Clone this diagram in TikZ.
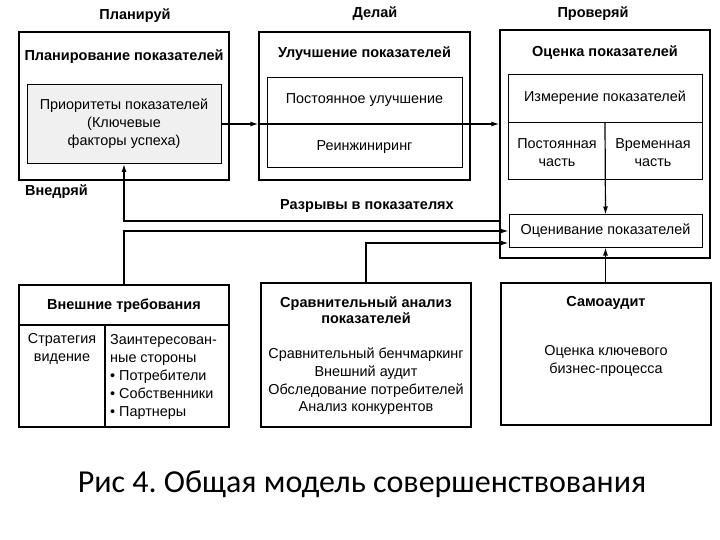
\documentclass[tikz,border=0pt]{standalone}
\usepackage{fontspec}
\setmainfont{Liberation Sans}
\newfontfamily\capfont{Carlito}
\usetikzlibrary{arrows.meta,positioning}

\begin{document}
\begin{tikzpicture}[x=1pt, y=-1pt,
		      bigbox/.style={draw, line width=1.4pt, inner sep=0pt},
		      smallbox/.style={draw, line width=1pt, inner sep=0pt},
		      head/.style={font=\fontsize{14.5}{16}\selectfont\bfseries, inner sep=0pt, align=center},
		      txt/.style={font=\fontsize{14.4}{18}\selectfont, inner sep=0pt, align=center},
		      arr/.style={-{Latex[length=8pt,width=5pt]}, line width=1.2pt}
		    ]
  \useasboundingbox (0,0) rectangle (720,540);

  % phases
  \node[head] (planlbl) at (135,16) {Планируй};
  \node[head] (dolbl) at (375,14) {Делай};
  \node[head] (checklbl) at (593,14) {Проверяй};
  \node[head, anchor=west] (actlbl) at (25,192) {Внедряй};

  % plan
  \node[bigbox, minimum width=210, minimum height=148] (plan) at (124,106) {};
  \node[head] (plantitle) at (124,57) {Планирование показателей};
  \node[smallbox, fill=gray!12, minimum width=194, minimum height=79] (prio) at (124,124) {};
  \node[txt] (priotxt) at (prio.center) {Приоритеты показателей\\(Ключевые\\факторы успеха)};

  % do
  \node[bigbox, minimum width=211, minimum height=148] (do) at (364.5,106) {};
  \node[head] (dotitle) at (364.5,54) {Улучшение показателей};
  \node[smallbox, minimum width=195, minimum height=90] (impr) at (364.5,123) {};
  \node[txt] (contimpr) at (364.5,100) {Постоянное улучшение};
  \node[txt] (reeng) at (364.5,147) {Реинжиниринг};

  % check
  \node[bigbox, minimum width=210, minimum height=228] (check) at (605,144) {};
  \node[head] (checktitle) at (605,53) {Оценка показателей};
  \node[smallbox, minimum width=194, minimum height=105] (meas) at (605,127.5) {};
  \node[txt] (meastxt) at (605,98) {Измерение показателей};
  \node[txt] (constpart) at (557,153) {Постоянная\\часть};
  \node[txt] (temppart) at (653,153) {Временная\\часть};
  \node[smallbox, minimum width=193, minimum height=32] (eval) at (605.5,231) {};
  \node[txt] (evaltxt) at (eval.center) {Оценивание показателей};
  \draw[line width=1pt] (meas.west |- 0,123) -- (meas.east |- 0,123);

  % bottom row
  \node[bigbox, minimum width=210, minimum height=142] (ext) at (124,356) {};
  \node[head] (exttitle) at (124,306) {Внешние требования};
  \draw[line width=1.2pt] (ext.west |- 0,325) -- (ext.east |- 0,325);
  \draw[line width=1.2pt] (105,325) -- (ext.south -| 105,0);
  \node[txt] (strat) at (62,349) {Стратегия\\видение};
  \node[txt, align=left, anchor=west] (stake) at (110,377) {Заинтересован-\\ные стороны\\• Потребители\\• Собственники\\• Партнеры};

  \node[bigbox, minimum width=210, minimum height=144] (bench) at (366,355) {};
  \node[head] (benchtitle) at (366,310) {Сравнительный анализ\\показателей};
  \node[txt, font=\fontsize{14.4}{17.7}\selectfont] (benchtxt) at (366,381.5) {Сравнительный бенчмаркинг\\Внешний аудит\\Обследование потребителей\\Анализ конкурентов};

  \node[bigbox, minimum width=210, minimum height=142] (self) at (606,354) {};
  \node[head] (selftitle) at (606,303) {Самоаудит};
  \node[txt] (selftxt) at (606,361) {Оценка ключевого\\бизнес-процесса};

  % connectors
  \draw[arr] (prio.east) -- (prio.east -| do.west);
  \draw[arr] (do.west |- prio.east) -- (check.west |- prio.east);
  \draw[arr] (meas.center |- 0,123) -- (eval.north);
  \draw[arr] (self.north -| eval.south) -- (eval.south);
  \draw[arr] (check.west |- 0,221) -| (prio.south);
  \node[head] (gaplbl) at (367,206) {Разрывы в показателях};
  \draw[arr] (ext.north) |- (eval.west);
  \draw[arr] (bench.north) |- (eval.west |- 0,243);

  \node[font=\capfont\fontsize{32}{38}\selectfont] (caption) at (362,484) {Рис 4.\ Общая модель совершенствования};
\end{tikzpicture}
\end{document}
